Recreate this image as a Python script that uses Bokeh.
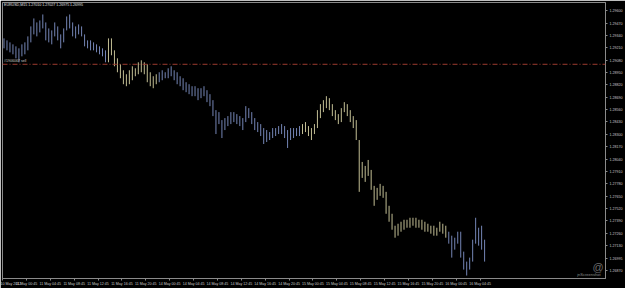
from bokeh.plotting import figure
from bokeh.models import ColumnDataSource, Range1d, FixedTicker, Span, Label, PrintfTickFormatter
from bokeh.embed import file_html
from bokeh.resources import INLINE

# ---- data (EURUSD M15) ----
highs = [
    1.29311, 1.29290, 1.29269, 1.29248, 1.29227, 1.29206, 1.29248, 1.29269, 1.29332, 1.29437,
    1.29521, 1.29479, 1.29500, 1.29563, 1.29479, 1.29416, 1.29395, 1.29479, 1.29437, 1.29353,
    1.29416, 1.29542, 1.29563, 1.29479, 1.29437, 1.29458, 1.29437, 1.29353, 1.29290, 1.29290,
    1.29269, 1.29248, 1.29227, 1.29206, 1.29185,
    1.29311, 1.29311, 1.29185, 1.29101, 1.29038, 1.28975, 1.28933, 1.28975, 1.29017, 1.28996,
    1.29059, 1.29080, 1.29059, 1.29038, 1.28954, 1.28912, 1.28933,
    1.28954, 1.28975, 1.28954, 1.28996, 1.29017, 1.28975, 1.28954, 1.28912, 1.28891, 1.28849,
    1.28828, 1.28807, 1.28807, 1.28786, 1.28786, 1.28807, 1.28765, 1.28723, 1.28660, 1.28555,
    1.28534, 1.28450, 1.28471, 1.28492, 1.28534, 1.28534, 1.28513, 1.28492, 1.28471, 1.28597,
    1.28576, 1.28534, 1.28471, 1.28429, 1.28408, 1.28366, 1.28345, 1.28324, 1.28366, 1.28366,
    1.28387, 1.28408, 1.28387, 1.28345, 1.28366, 1.28366, 1.28366, 1.28387,
    1.28408, 1.28429, 1.28387, 1.28366, 1.28408, 1.28555, 1.28618, 1.28660, 1.28702, 1.28681,
    1.28618, 1.28555, 1.28513, 1.28576, 1.28639, 1.28618, 1.28555, 1.28492, 1.28450, 1.28240,
    1.28009, 1.27967, 1.28030, 1.27925, 1.27757, 1.27736, 1.27778, 1.27757, 1.27694, 1.27547,
    1.27463, 1.27337, 1.27358, 1.27379, 1.27400, 1.27400, 1.27421, 1.27421, 1.27421, 1.27400,
    1.27400, 1.27379, 1.27358, 1.27337, 1.27337, 1.27316, 1.27379, 1.27358, 1.27337,
    1.27274, 1.27232, 1.27211, 1.27274, 1.27274, 1.27064, 1.26959, 1.27001, 1.27190, 1.27421,
    1.27316, 1.27337, 1.27190,
]
lows = [
    1.29206, 1.29185, 1.29164, 1.29143, 1.29101, 1.29059, 1.29122, 1.29143, 1.29185, 1.29269,
    1.29353, 1.29332, 1.29374, 1.29416, 1.29290, 1.29269, 1.29248, 1.29332, 1.29290, 1.29206,
    1.29269, 1.29395, 1.29416, 1.29332, 1.29311, 1.29353, 1.29332, 1.29227, 1.29206, 1.29185,
    1.29185, 1.29164, 1.29143, 1.29122, 1.29059,
    1.29059, 1.29133, 1.29017, 1.28954, 1.28891, 1.28828, 1.28807, 1.28828, 1.28870, 1.28912,
    1.28933, 1.28954, 1.28933, 1.28849, 1.28807, 1.28786, 1.28828,
    1.28849, 1.28870, 1.28891, 1.28891, 1.28912, 1.28870, 1.28828, 1.28807, 1.28765, 1.28744,
    1.28723, 1.28702, 1.28702, 1.28660, 1.28681, 1.28702, 1.28639, 1.28597, 1.28492, 1.28303,
    1.28408, 1.28261, 1.28345, 1.28387, 1.28408, 1.28429, 1.28408, 1.28387, 1.28345, 1.28429,
    1.28471, 1.28408, 1.28345, 1.28324, 1.28282, 1.28198, 1.28219, 1.28240, 1.28261, 1.28282,
    1.28303, 1.28303, 1.28261, 1.28156, 1.28240, 1.28261, 1.28282, 1.28282,
    1.28303, 1.28324, 1.28282, 1.28240, 1.28303, 1.28366, 1.28471, 1.28534, 1.28576, 1.28555,
    1.28492, 1.28450, 1.28408, 1.28429, 1.28534, 1.28492, 1.28429, 1.28366, 1.28240, 1.27694,
    1.27841, 1.27799, 1.27862, 1.27715, 1.27547, 1.27610, 1.27652, 1.27631, 1.27463, 1.27379,
    1.27295, 1.27211, 1.27232, 1.27274, 1.27295, 1.27316, 1.27316, 1.27337, 1.27316, 1.27316,
    1.27295, 1.27274, 1.27274, 1.27253, 1.27232, 1.27232, 1.27274, 1.27253, 1.27211,
    1.27148, 1.27001, 1.27085, 1.27148, 1.27001, 1.26875, 1.26812, 1.26875, 1.26959, 1.27148,
    1.27127, 1.27085, 1.26959,
]
segment_lengths = [35, 17, 48, 49, 13]

time_labels = [
    "10 May 2012", "11 May 00:45", "11 May 04:45", "11 May 08:45", "11 May 12:45",
    "11 May 16:45", "11 May 20:45", "14 May 00:45", "14 May 04:45", "14 May 08:45",
    "14 May 12:45", "14 May 16:45", "14 May 20:45", "15 May 00:45", "15 May 04:45",
    "15 May 08:45", "15 May 12:45", "15 May 16:45", "15 May 20:45", "16 May 00:45",
    "16 May 04:45",
]
price_ticks = [
    1.29600, 1.29470, 1.29340, 1.29210, 1.29080, 1.28950, 1.28820, 1.28690, 1.28560,
    1.28430, 1.28300, 1.28170, 1.28040, 1.27910, 1.27780, 1.27650, 1.27520, 1.27390,
    1.27260, 1.27130, 1.26995, 1.26870,
]
order_level = 1.29038
last_price = 1.26995
title_text = "EURUSD,M15  1.27010 1.27027 1.26975 1.26995"
order_text = "#1906067 sell"
watermark_text = "jnScreenshot"

# ---- layout helpers ----
n = len(highs)
bar_index = [2 * (i + 1) for i in range(n)]
palette = ["#7485b5", "#c2be94"]
colors = []
for k, L in enumerate(segment_lengths):
    colors += [palette[k % 2]] * L
src = ColumnDataSource(dict(x=bar_index, high=highs, low=lows, color=colors))

label_pos = [1 + 16 * k for k in range(len(time_labels))]

p = figure(width=625, height=288, output_backend="svg", toolbar_location=None,
           x_range=Range1d(1, 405), y_range=Range1d(1.26781, 1.29689),
           y_axis_location="right",
           min_border_left=2, min_border_top=2, min_border_right=0, min_border_bottom=0)
p.background_fill_color = "black"
p.border_fill_color = "black"
p.outline_line_color = "#8a8a8a"
p.grid.visible = False

p.segment(x0="x", y0="high", x1="x", y1="low", line_color="color", line_width=1, source=src)

p.add_layout(Span(location=order_level, dimension="width", line_color="#9c3b2e",
                  line_dash="5 2 1 2", line_width=1))

font = "Liberation Sans"
yax = p.yaxis[0]
yax.ticker = FixedTicker(ticks=price_ticks)
yax.formatter = PrintfTickFormatter(format="%.5f")
yax.major_label_text_font_size = "3.6px"
yax.major_label_text_font = font
yax.major_label_text_color = "#c8c8c8"
yax.axis_line_color = "#8a8a8a"
yax.major_tick_line_color = "#8a8a8a"
yax.major_tick_out = 2
yax.major_tick_in = 0
yax.minor_tick_line_color = None
yax.major_label_standoff = 2

xax = p.xaxis[0]
xax.ticker = FixedTicker(ticks=label_pos)
xax.major_label_overrides = {pos: t for pos, t in zip(label_pos, time_labels)}
xax.major_label_text_font_size = "3.6px"
xax.major_label_text_font = font
xax.major_label_text_color = "#c8c8c8"
xax.major_label_text_align = "left"
xax.axis_line_color = "#8a8a8a"
xax.major_tick_line_color = "#8a8a8a"
xax.major_tick_out = 2
xax.major_tick_in = 0
xax.minor_tick_line_color = None
xax.major_label_standoff = 1

p.add_layout(Label(x=2, y=1.29660, text=title_text, text_font_size="3.6px", text_font=font,
                   text_color="#e0e0e0", text_baseline="middle"))
p.add_layout(Label(x=2, y=1.29070, text=order_text, text_font_size="3.6px", text_font=font,
                   text_color="#c8c8c8", text_baseline="middle"))
p.add_layout(Label(x=386, y=1.26800, text=watermark_text, text_font_size="4px", text_font=font,
                   text_color="#8a8a8a", text_baseline="bottom"))
p.add_layout(Label(x=400, y=1.26900, text="@", text_font_size="11px", text_font=font,
                   text_color="#6a6a6a", text_baseline="middle", text_align="center"))

open("out.html", "w").write(file_html(p, INLINE))
